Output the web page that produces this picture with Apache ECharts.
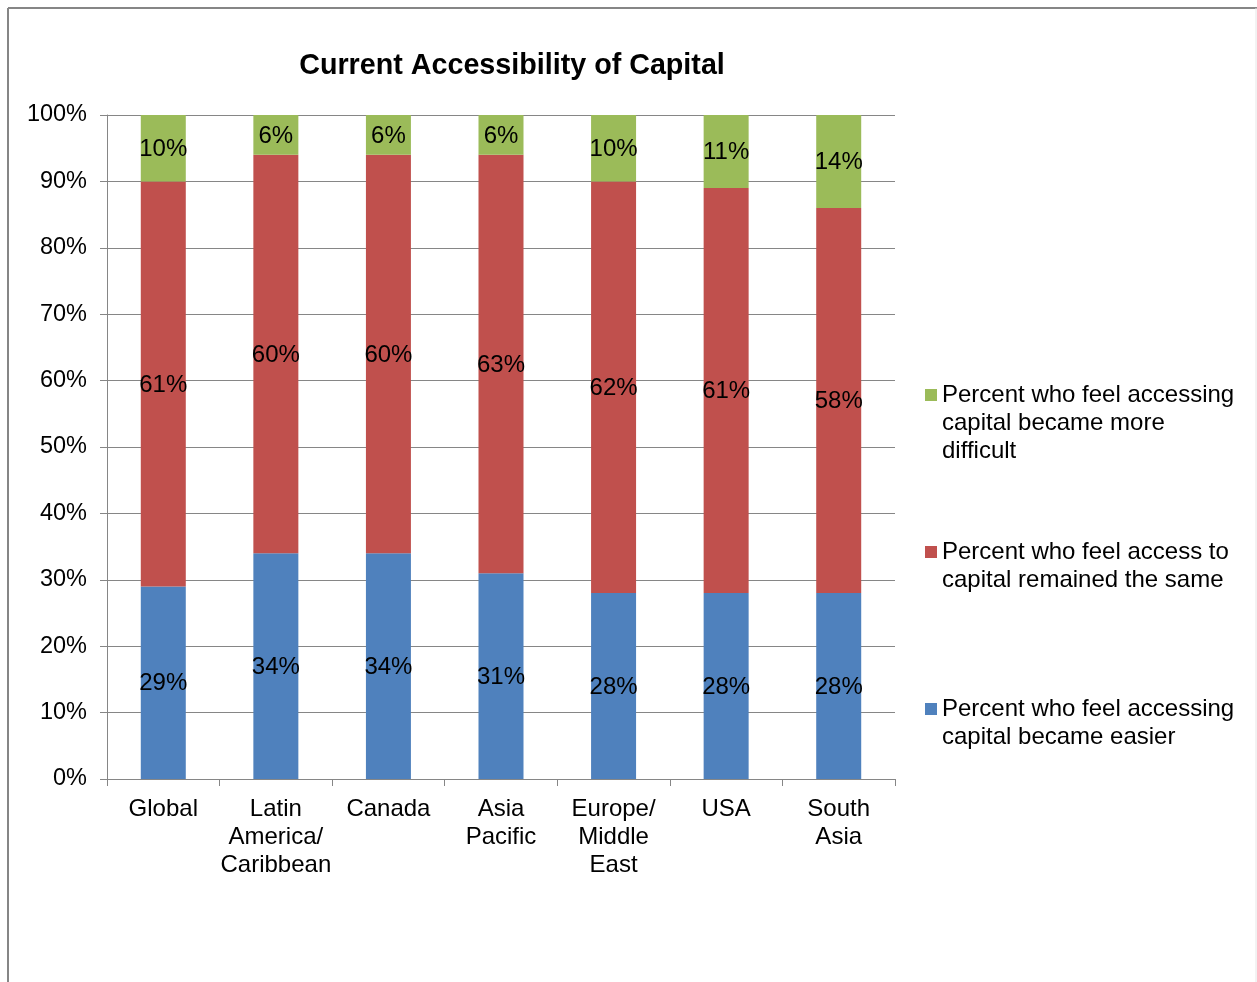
<!DOCTYPE html>
<html>
<head>
<meta charset="utf-8">
<script src="https://cdn.jsdelivr.net/npm/echarts@6/dist/echarts.min.js"></script>
<style>
  html, body { margin: 0; padding: 0; background: #fff; }
  #chart { width: 1257px; height: 982px; }
</style>
</head>
<body>
<div id="chart"></div>
<script>
var regions = ['Global', 'Latin\nAmerica/\nCaribbean', 'Canada', 'Asia\nPacific', 'Europe/\nMiddle\nEast', 'USA', 'South\nAsia'];
var easier = [29, 34, 34, 31, 28, 28, 28];
var same = [61, 60, 60, 63, 62, 61, 58];
var harder = [10, 6, 6, 6, 10, 11, 14];
var yTicks = [0, 10, 20, 30, 40, 50, 60, 70, 80, 90, 100];

var nameEasier = 'Percent who feel accessing capital became easier';
var nameSame = 'Percent who feel access to capital remained the same';
var nameHarder = 'Percent who feel accessing capital became more difficult';
var wrapped = {};
wrapped[nameEasier] = ['Percent who feel accessing', 'capital became easier'];
wrapped[nameSame] = ['Percent who feel access to', 'capital remained the same'];
wrapped[nameHarder] = ['Percent who feel accessing', 'capital became more', 'difficult'];

var font = 'Liberation Sans, Arial, sans-serif';
var gray = '#868686';

// the icon sits on the middle of the text block, so pad the top with
// blank lines to bring the first line level with the icon
function legendFor(name, iconY) {
	var lines = wrapped[name];
	var pad = [];
	for (var i = 1; i < lines.length; i++) pad.push(' ');
	var total = pad.length + lines.length;
	return {
		data: [name],
		orient: 'vertical',
		left: 925,
		top: iconY - total * 28 / 2,
		itemWidth: 12,
		itemHeight: 12,
		itemGap: 0,
		padding: 0,
		icon: 'rect',
		selectedMode: false,
		formatter: function(n) { return pad.concat(wrapped[n]).join('\n'); },
		textStyle: { fontFamily: font, fontSize: 24, color: '#000', lineHeight: 28 }
	};
}

function seriesFor(name, data, color) {
	return {
		name: name,
		type: 'bar',
		stack: 'all',
		barWidth: 45,
		data: data,
		itemStyle: { color: color },
		label: {
			show: true,
			position: 'inside',
			offset: [0, 1],
			formatter: '{c}%',
			fontFamily: font,
			fontSize: 24,
			color: '#000'
		}
	};
}

var chart = echarts.init(document.getElementById('chart'));
chart.setOption({
	animation: false,
	title: {
		text: 'Current Accessibility of Capital',
		left: 507,
		textAlign: 'center',
		top: 47,
		textStyle: { fontFamily: font, fontSize: 28.7, fontWeight: 'bold', color: '#000' }
	},
	graphic: [
		{ type: 'line', shape: { x1: 8, y1: 8, x2: 1257, y2: 8 }, style: { stroke: gray, lineWidth: 2 } },
		{ type: 'line', shape: { x1: 8, y1: 8, x2: 8, y2: 982 }, style: { stroke: gray, lineWidth: 2 } },
		{ type: 'line', shape: { x1: 1256, y1: 8, x2: 1256, y2: 982 }, style: { stroke: '#e6e6e6', lineWidth: 1 } }
	],
	legend: [
		legendFor(nameHarder, 395),
		legendFor(nameSame, 552),
		legendFor(nameEasier, 709)
	],
	grid: { left: 107, right: 362, top: 115, bottom: 203 },
	xAxis: {
		type: 'category',
		data: regions,
		axisLine: { lineStyle: { color: gray, width: 1 } },
		axisTick: { show: true, length: 7, interval: 0, lineStyle: { color: gray } },
		axisLabel: { interval: 0, margin: 16, fontFamily: font, fontSize: 24, color: '#000', lineHeight: 28 }
	},
	yAxis: {
		type: 'value',
		min: 0,
		max: 100,
		interval: 10,
		axisLine: { show: true, lineStyle: { color: gray, width: 1 } },
		axisTick: { show: true, length: 7, lineStyle: { color: gray } },
		splitLine: { lineStyle: { color: gray, width: 1 } },
		axisLabel: {
			margin: 20, fontFamily: font, fontSize: 23.5, color: '#000',
			formatter: function(v) { return yTicks.indexOf(v) >= 0 ? v + '%' : ''; }
		}
	},
	series: [
		seriesFor(nameEasier, easier, '#4F81BD'),
		seriesFor(nameSame, same, '#C0504D'),
		seriesFor(nameHarder, harder, '#9BBB59')
	]
});
</script>
</body>
</html>
